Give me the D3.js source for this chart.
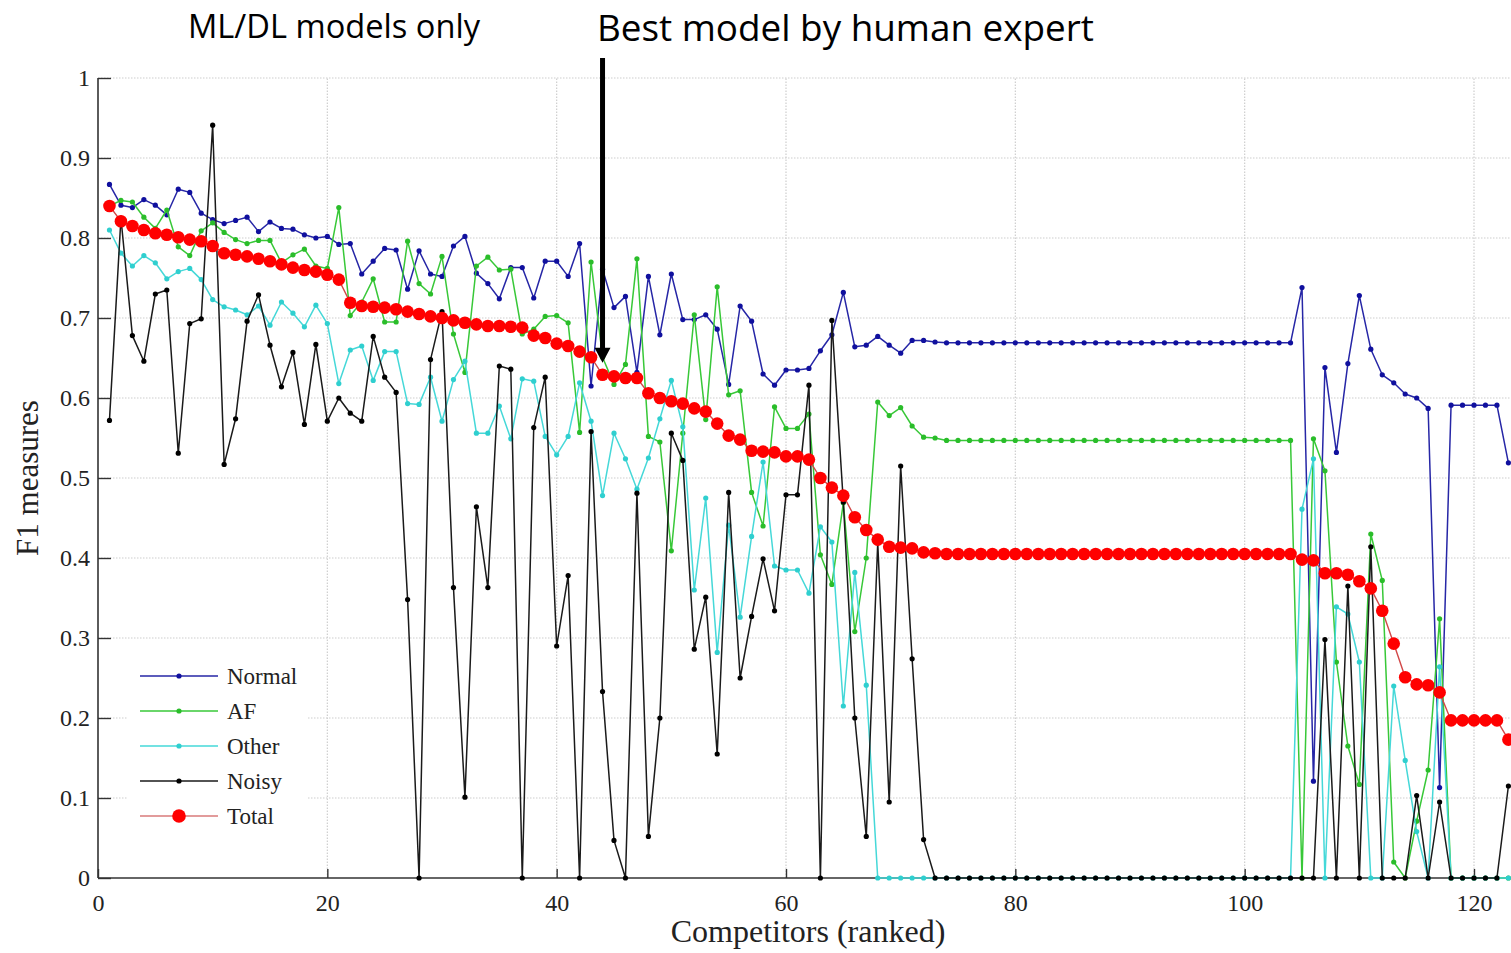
<!DOCTYPE html>
<html>
<head>
<meta charset="utf-8">
<script src="https://cdn.jsdelivr.net/npm/d3@7"></script>
<style>
  html, body { margin: 0; padding: 0; background: #ffffff; }
  svg { display: block; }
</style>
</head>
<body>
<svg id="chart" width="1511" height="953"></svg>
<script>
// ---------------- data (competitors ranked 1..123) ----------------
const seriesNames = ["Normal", "AF", "Other", "Noisy", "Total"];
const xTicks = [0, 20, 40, 60, 80, 100, 120];
const yTicks = [0, 0.1, 0.2, 0.3, 0.4, 0.5, 0.6, 0.7, 0.8, 0.9, 1];
const titleLeft = "ML/DL models only";
const titleRight = "Best model by human expert";
const xLabel = "Competitors (ranked)";
const yLabel = "F1 measures";
const bestRank = 44;

const normal = [
0.867,0.841,0.838,0.848,0.841,0.829,0.861,0.857,0.831,0.823,
0.818,0.822,0.826,0.808,0.820,0.812,0.811,0.804,0.800,0.802,
0.792,0.793,0.755,0.771,0.787,0.785,0.736,0.784,0.755,0.752,
0.790,0.802,0.756,0.743,0.724,0.763,0.763,0.725,0.771,0.771,
0.752,0.793,0.615,0.761,0.713,0.727,0.632,0.752,0.679,0.755,
0.698,0.698,0.704,0.686,0.617,0.715,0.696,0.630,0.616,0.635,
0.635,0.637,0.659,0.679,0.732,0.664,0.666,0.677,0.666,0.656,
0.672,0.672,0.670,0.669,0.669,0.669,0.669,0.669,0.669,0.669,
0.669,0.669,0.669,0.669,0.669,0.669,0.669,0.669,0.669,0.669,
0.669,0.669,0.669,0.669,0.669,0.669,0.669,0.669,0.669,0.669,
0.669,0.669,0.669,0.669,0.738,0.121,0.638,0.532,0.643,0.728,
0.661,0.629,0.619,0.605,0.600,0.587,0.113,0.591,0.591,0.591,
0.591,0.591,0.519];

const af = [
0.840,0.847,0.845,0.826,0.812,0.835,0.789,0.778,0.809,0.819,
0.807,0.798,0.793,0.797,0.797,0.769,0.779,0.786,0.765,0.762,
0.838,0.703,0.720,0.749,0.695,0.695,0.796,0.743,0.730,0.777,
0.680,0.632,0.765,0.776,0.760,0.761,0.680,0.686,0.702,0.703,
0.694,0.557,0.770,0.651,0.617,0.642,0.774,0.552,0.545,0.409,
0.556,0.704,0.573,0.739,0.604,0.609,0.482,0.440,0.589,0.562,
0.562,0.580,0.404,0.367,0.469,0.308,0.400,0.595,0.578,0.588,
0.565,0.551,0.550,0.547,0.547,0.547,0.547,0.547,0.547,0.547,
0.547,0.547,0.547,0.547,0.547,0.547,0.547,0.547,0.547,0.547,
0.547,0.547,0.547,0.547,0.547,0.547,0.547,0.547,0.547,0.547,
0.547,0.547,0.547,0.547,0.000,0.549,0.509,0.270,0.165,0.117,
0.430,0.372,0.020,0.000,0.071,0.135,0.324,0.000,0.000,0.000,
0.000,0.000,0.000];

const other = [
0.810,0.781,0.765,0.778,0.769,0.749,0.758,0.762,0.748,0.723,
0.714,0.710,0.704,0.715,0.691,0.720,0.706,0.689,0.716,0.693,
0.618,0.660,0.665,0.622,0.658,0.658,0.593,0.592,0.626,0.571,
0.623,0.646,0.556,0.556,0.590,0.549,0.624,0.621,0.552,0.529,
0.552,0.619,0.571,0.478,0.556,0.524,0.486,0.525,0.574,0.622,
0.564,0.360,0.475,0.282,0.441,0.326,0.427,0.520,0.390,0.385,
0.385,0.356,0.439,0.420,0.215,0.382,0.241,0.000,0.000,0.000,
0.000,0.000,0.000,0.000,0.000,0.000,0.000,0.000,0.000,0.000,
0.000,0.000,0.000,0.000,0.000,0.000,0.000,0.000,0.000,0.000,
0.000,0.000,0.000,0.000,0.000,0.000,0.000,0.000,0.000,0.000,
0.000,0.000,0.000,0.000,0.461,0.524,0.000,0.339,0.330,0.270,
0.000,0.000,0.240,0.147,0.058,0.000,0.264,0.000,0.000,0.000,
0.000,0.000,0.000];

const noisy = [
0.572,0.825,0.678,0.646,0.730,0.735,0.531,0.693,0.699,0.941,
0.517,0.574,0.696,0.729,0.666,0.614,0.657,0.567,0.667,0.571,
0.600,0.581,0.571,0.677,0.626,0.607,0.348,0.000,0.648,0.708,
0.363,0.101,0.464,0.363,0.640,0.636,0.000,0.563,0.626,0.290,
0.378,0.000,0.558,0.233,0.047,0.000,0.481,0.052,0.200,0.556,
0.522,0.286,0.351,0.155,0.482,0.250,0.327,0.399,0.334,0.479,
0.479,0.616,0.000,0.697,0.470,0.200,0.052,0.419,0.095,0.515,
0.274,0.048,0.000,0.000,0.000,0.000,0.000,0.000,0.000,0.000,
0.000,0.000,0.000,0.000,0.000,0.000,0.000,0.000,0.000,0.000,
0.000,0.000,0.000,0.000,0.000,0.000,0.000,0.000,0.000,0.000,
0.000,0.000,0.000,0.000,0.000,0.000,0.298,0.000,0.365,0.000,
0.414,0.000,0.000,0.000,0.103,0.000,0.095,0.000,0.000,0.000,
0.000,0.000,0.115];

const total = [
0.840,0.821,0.815,0.810,0.806,0.804,0.801,0.798,0.796,0.790,
0.781,0.779,0.777,0.774,0.771,0.767,0.763,0.760,0.758,0.754,
0.748,0.719,0.715,0.714,0.713,0.711,0.708,0.705,0.702,0.700,
0.697,0.694,0.692,0.690,0.690,0.689,0.688,0.678,0.675,0.668,
0.665,0.658,0.651,0.629,0.627,0.625,0.625,0.606,0.600,0.596,
0.593,0.587,0.583,0.568,0.553,0.548,0.534,0.533,0.532,0.527,
0.527,0.523,0.500,0.488,0.478,0.451,0.435,0.423,0.414,0.413,
0.412,0.407,0.406,0.405,0.405,0.405,0.405,0.405,0.405,0.405,
0.405,0.405,0.405,0.405,0.405,0.405,0.405,0.405,0.405,0.405,
0.405,0.405,0.405,0.405,0.405,0.405,0.405,0.405,0.405,0.405,
0.405,0.405,0.405,0.405,0.398,0.397,0.381,0.381,0.379,0.371,
0.362,0.334,0.293,0.251,0.242,0.241,0.232,0.197,0.197,0.197,
0.197,0.197,0.173];

// ---------------- drawing ----------------
const styles = {
  Normal: { values: normal, line: "#2626a6", dot: "#10109e", r: 2.6, w: 1.5 },
  AF:     { values: af,     line: "#38c838", dot: "#2abd2a", r: 2.6, w: 1.5 },
  Other:  { values: other,  line: "#45d8d8", dot: "#2fcfcf", r: 2.6, w: 1.5 },
  Noisy:  { values: noisy,  line: "#1a1a1a", dot: "#000000", r: 2.6, w: 1.5 },
  Total:  { values: total,  line: "#d24848", dot: "#ff0000", r: 6.3, w: 1.4 }
};

const svg = d3.select("#chart");
const W = 1511, H = 953;
const x = d3.scaleLinear().domain([0, 120]).range([98, 1474]);
const y = d3.scaleLinear().domain([0, 1]).range([878, 78]);
const serif = "'Liberation Serif', 'Times New Roman', serif";
const sans = "'Open Sans', 'Noto Sans', sans-serif";

// grid
const grid = svg.append("g");
grid.selectAll("line.h").data(yTicks.filter(d => d > 0)).join("line")
  .attr("x1", x(0)).attr("x2", W)
  .attr("y1", d => y(d)).attr("y2", d => y(d))
  .attr("stroke", "#cdcdcd").attr("stroke-width", 1.2).attr("stroke-dasharray", "1.5,1.5");
grid.selectAll("line.v").data(xTicks.filter(d => d > 0)).join("line")
  .attr("x1", d => x(d)).attr("x2", d => x(d))
  .attr("y1", y(0)).attr("y2", y(1))
  .attr("stroke", "#cdcdcd").attr("stroke-width", 1.2).attr("stroke-dasharray", "1.5,1.5");

// axes
const yAxis = d3.axisLeft(y).tickValues(yTicks).tickSizeInner(-13).tickSizeOuter(0).tickPadding(8)
  .tickFormat(d => String(+d.toFixed(1)));
const gy = svg.append("g").attr("transform", `translate(${x(0)},0)`).call(yAxis);
gy.select(".domain").remove();
gy.selectAll(".tick line").attr("stroke", "#333").attr("stroke-width", 1.4);
gy.selectAll(".tick text").attr("font-family", serif).attr("font-size", 24).attr("fill", "#222");

const xAxis = d3.axisBottom(x).tickValues(xTicks).tickSizeInner(-9).tickSizeOuter(0).tickPadding(16)
  .tickFormat(d => String(d));
const gx = svg.append("g").attr("transform", `translate(0,${y(0)})`).call(xAxis);
gx.select(".domain").remove();
gx.selectAll(".tick line").attr("stroke", "#333").attr("stroke-width", 1.4);
gx.selectAll(".tick text").attr("font-family", serif).attr("font-size", 24).attr("fill", "#222");

svg.append("line").attr("x1", x(0)).attr("x2", x(0)).attr("y1", y(0)).attr("y2", y(1))
  .attr("stroke", "#333").attr("stroke-width", 1.6);
svg.append("line").attr("x1", x(0)).attr("x2", W).attr("y1", y(0)).attr("y2", y(0))
  .attr("stroke", "#333").attr("stroke-width", 1.6);

// series
const lineGen = d3.line().x((d, i) => x(i + 1)).y(d => y(d));
seriesNames.forEach(name => {
  const s = styles[name];
  const g = svg.append("g");
  g.append("path").datum(s.values).attr("d", lineGen)
    .attr("fill", "none").attr("stroke", s.line).attr("stroke-width", s.w)
    .attr("stroke-linejoin", "round");
  g.selectAll("circle").data(s.values).join("circle")
    .attr("cx", (d, i) => x(i + 1)).attr("cy", d => y(d)).attr("r", s.r)
    .attr("fill", s.dot);
});

// legend
const lg = svg.append("g");
lg.append("rect").attr("x", 128).attr("y", 654).attr("width", 180).attr("height", 184).attr("fill", "#ffffff");
seriesNames.forEach((name, k) => {
  const s = styles[name];
  const yy = 676 + k * 35;
  lg.append("line").attr("x1", 140).attr("x2", 218).attr("y1", yy).attr("y2", yy)
    .attr("stroke", name === "Total" ? "#d87a7a" : s.line).attr("stroke-width", 1.6);
  lg.append("circle").attr("cx", 179).attr("cy", yy).attr("r", name === "Total" ? 6.8 : 2.6).attr("fill", s.dot);
  lg.append("text").attr("x", 227).attr("y", yy).attr("dy", "0.35em")
    .attr("font-family", serif).attr("font-size", 23).attr("fill", "#222").text(name);
});

// axis labels
svg.append("text").attr("x", 808).attr("y", 942).attr("text-anchor", "middle")
  .attr("font-family", serif).attr("font-size", 32).attr("fill", "#222").text(xLabel);
svg.append("text").attr("transform", "translate(38,478) rotate(-90)").attr("text-anchor", "middle")
  .attr("font-family", serif).attr("font-size", 31).attr("fill", "#222").text(yLabel);

// annotations
svg.append("text").attr("x", 188).attr("y", 38).attr("font-family", sans).attr("font-size", 33)
  .attr("textLength", 292).attr("lengthAdjust", "spacingAndGlyphs").attr("fill", "#000").text(titleLeft);
svg.append("text").attr("x", 597).attr("y", 41).attr("font-family", sans).attr("font-size", 37)
  .attr("textLength", 497).attr("lengthAdjust", "spacingAndGlyphs").attr("fill", "#000").text(titleRight);

const ax = x(bestRank);
const tipY = y(total[bestRank - 1]) - 12;
svg.append("line").attr("x1", ax).attr("x2", ax).attr("y1", 58).attr("y2", tipY - 10)
  .attr("stroke", "#000").attr("stroke-width", 5);
svg.append("path")
  .attr("d", `M${ax - 8},${tipY - 15} L${ax + 8},${tipY - 15} L${ax},${tipY} Z`)
  .attr("fill", "#000");
</script>
</body>
</html>
